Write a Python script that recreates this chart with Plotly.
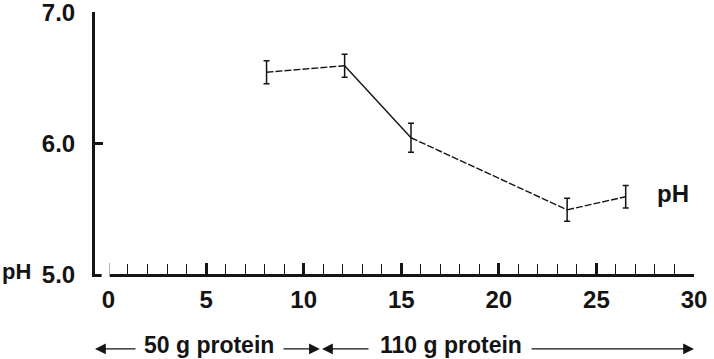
import plotly.graph_objects as go

# ---- data ----
days = [8.1, 12.1, 15.5, 23.5, 26.5]
ph_values = [6.54, 6.59, 6.04, 5.49, 5.59]
ph_errors = [0.087, 0.088, 0.11, 0.088, 0.086]
segment_dash = ["7px,2px", "solid", "7px,2px", "7px,2px"]

x_major = [0, 5, 10, 15, 20, 25, 30]
x_minor = [v for v in range(1, 30) if v % 5 != 0]
y_ticks = [5.0, 6.0, 7.0]
y_ticktext = ["5.0", "6.0", "7.0"]

period_labels = ["50 g protein", "110 g protein"]
period_centers = [5.15, 17.55]

INK = "#141414"
FONT = "Liberation Sans"

fig = go.Figure()

# line segments (different dash per segment)
for i, dash in enumerate(segment_dash):
    fig.add_trace(go.Scatter(
        x=days[i:i + 2], y=ph_values[i:i + 2], mode="lines",
        line=dict(color=INK, width=1.4, dash=dash),
        hoverinfo="skip", showlegend=False, cliponaxis=False))

# error bars
fig.add_trace(go.Scatter(
    x=days, y=ph_values, mode="markers",
    marker=dict(size=1, color="rgba(0,0,0,0)"),
    error_y=dict(type="data", array=ph_errors, visible=True,
                 color=INK, thickness=1.5, width=3),
    hoverinfo="skip", showlegend=False))

tickfont = dict(family=FONT, size=24, color=INK, weight="bold")

fig.update_xaxes(
    range=[-0.69, 30], showgrid=False, zeroline=False, automargin=False,
    showline=True, linecolor=INK, linewidth=3,
    tickmode="array", tickvals=x_major, ticktext=[str(v) for v in x_major],
    ticks="inside", ticklen=11, tickwidth=2.5, tickcolor=INK,
    ticklabelstandoff=2, tickfont=tickfont, ticklabeloverflow="allow",
    minor=dict(tickmode="array", tickvals=x_minor, ticks="inside",
               ticklen=10, tickwidth=1.2, tickcolor=INK),
)
fig.update_yaxes(
    range=[5, 7], showgrid=False, zeroline=False, automargin=False,
    showline=True, linecolor=INK, linewidth=3,
    tickmode="array", tickvals=y_ticks, ticktext=y_ticktext,
    ticks="inside", ticklen=8, tickwidth=3, tickcolor=INK,
    ticklabelstandoff=12, ticklabelshift=1, tickfont=tickfont,
    ticklabeloverflow="allow",
)

# gap in the x-axis line near the origin
fig.add_shape(type="rect", xref="paper", yref="paper",
              x0=0.011, x1=0.0245, y0=-0.03, y1=0.06,
              fillcolor="white", line=dict(width=0), layer="above")

# axis label "pH" at left bottom
fig.add_annotation(text="pH", xref="paper", x=-0.1586, xanchor="left",
                   yref="y", y=5.0, yshift=3, showarrow=False,
                   font=dict(family=FONT, size=22, color=INK, weight="bold"))
# series label "pH" at right
fig.add_annotation(text="pH", xref="x", x=28.0, xanchor="left",
                   yref="y", y=5.618, showarrow=False,
                   font=dict(family=FONT, size=24, color=INK, weight="bold"))

# period labels with arrows
for lab, cx in zip(period_labels, period_centers):
    fig.add_annotation(text=lab, xref="x", x=cx, yref="paper", y=-0.272,
                       yanchor="middle", showarrow=False,
                       font=dict(family=FONT, size=23, color=INK, weight="bold"))

arrows = [(-0.69, 1.46), (10.83, 8.89), (10.94, 13.4), (30.0, 21.6)]
for head, tail in arrows:
    fig.add_annotation(text="", xref="x", x=head, yref="paper", y=-0.286,
                       axref="x", ax=tail, ayref="pixel", ay=0,
                       showarrow=True, arrowhead=2, arrowsize=1.8,
                       arrowwidth=1.2, arrowcolor=INK)

fig.update_layout(
    width=714, height=359,
    margin=dict(l=95, r=20, t=12, b=85, autoexpand=False),
    plot_bgcolor="white", paper_bgcolor="white",
    showlegend=False,
)

fig.write_html("out.html", config={"displayModeBar": False},
               post_script="document.body.style.margin='0';document.body.style.overflow='hidden';")
